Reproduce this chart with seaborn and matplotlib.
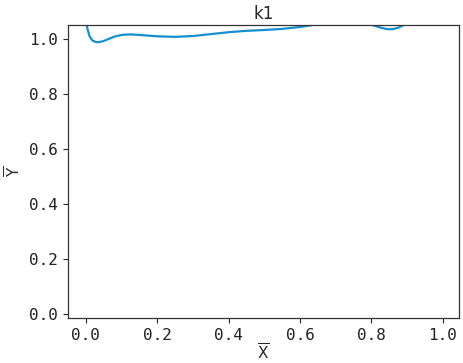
import numpy as np
import pandas as pd
import seaborn as sns
import matplotlib.pyplot as plt

# curve values (parts above 1.05 are clipped by the axes)
x_vals = [0.0, 0.004, 0.01, 0.018, 0.028, 0.038, 0.05, 0.065, 0.08, 0.1, 0.125, 0.15,
          0.2, 0.25, 0.3, 0.35, 0.4, 0.45, 0.5, 0.55, 0.6, 0.63, 0.66, 0.7, 0.75,
          0.79, 0.81, 0.83, 0.845, 0.86, 0.875, 0.89, 0.92, 0.96, 1.0]
y_vals = [1.075, 1.04, 1.012, 0.996, 0.99, 0.99, 0.994, 1.002, 1.01, 1.016, 1.018, 1.016,
          1.011, 1.009, 1.012, 1.019, 1.026, 1.031, 1.034, 1.038, 1.045, 1.051, 1.058, 1.064, 1.066,
          1.058, 1.049, 1.041, 1.037, 1.037, 1.042, 1.052, 1.062, 1.07, 1.075]
x_ticks = [0.0, 0.2, 0.4, 0.6, 0.8, 1.0]
y_ticks = [0.0, 0.2, 0.4, 0.6, 0.8, 1.0]

df = pd.DataFrame({'x': x_vals, 'y': y_vals})

sns.set_style('ticks')
plt.rcParams['font.family'] = ['DejaVu Sans Mono', 'DejaVu Sans']

fig, ax = plt.subplots(figsize=(4.63, 3.63), dpi=100)
sns.lineplot(data=df, x='x', y='y', ax=ax, color='#1490d0', linewidth=1.6)

ax.set_xlim(-0.05, 1.045)
ax.set_ylim(-0.015, 1.052)
ax.set_xticks(x_ticks)
ax.set_yticks(y_ticks)
ax.set_xticklabels([f'{t:.1f}' for t in x_ticks], fontsize=11.5, color='#222222')
ax.set_yticklabels([f'{t:.1f}' for t in y_ticks], fontsize=11.5, color='#222222')
ax.set_xlabel(r'$\overline{\mathrm{X}}$', fontsize=11, labelpad=0)
ax.set_ylabel(r'$\overline{\mathrm{Y}}$', fontsize=11, labelpad=4)
ax.set_title('k1', fontsize=12, family='DejaVu Sans', pad=4)
for s in ax.spines.values():
    s.set_color('#333333')
    s.set_linewidth(0.9)

fig.subplots_adjust(left=0.147, right=0.991, top=0.931, bottom=0.124)
fig.savefig('out.png', dpi=100)
